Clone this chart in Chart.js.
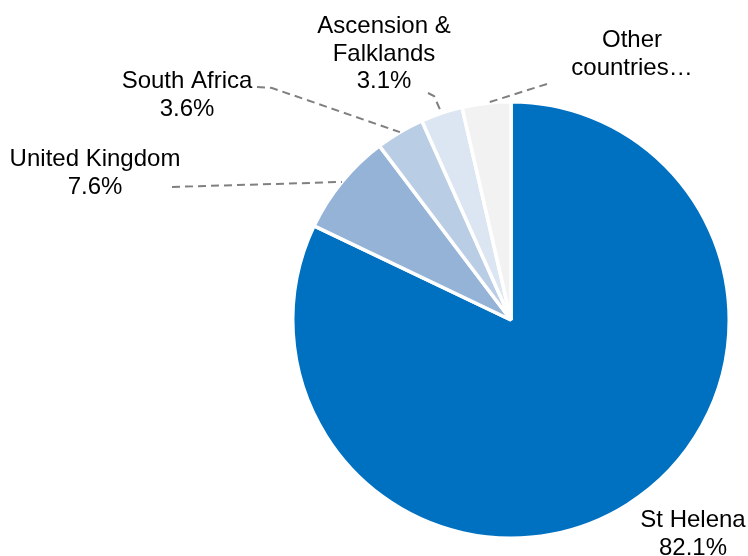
<!DOCTYPE html>
<html>
<head>
<meta charset="utf-8">
<script src="https://cdn.jsdelivr.net/npm/chart.js@4"></script>
<style>
html,body{margin:0;padding:0;background:#fff;}
#wrap{width:748px;height:556px;}
</style>
</head>
<body>
<div id="wrap"><canvas id="pieChart" width="748" height="556"></canvas></div>
<script>
/* DATA */
const countries = ['St Helena','United Kingdom','South Africa','Ascension & Falklands','Other countries'];
const shares = [82.1, 7.6, 3.6, 3.1, 3.6];
const sliceColors = ['#0070C0','#95B3D7','#B9CDE5','#DCE6F2','#F2F2F2'];

/* label text lines, centre x and first baseline */
const labelLines = [
  ['St Helena', '82.1%'],
  ['United Kingdom', '7.6%'],
  ['South Africa', '3.6%'],
  ['Ascension &', 'Falklands', '3.1%'],
  ['Other', 'countries…']
];
const labelPos = [[693,527],[95,166],[187,88],[384,33],[632,47]];
/* leader line points near the label; the line then runs to the slice edge */
const leaders = [null, [[172,187]], [[257,87],[272,88]], [[428,93],[434,96]], [[547,84]]];

/* LABELS PLUGIN */
const labelPlugin = {
  id:'labels',
  afterDraw(chart){
    const ctx = chart.ctx;
    const meta = chart.getDatasetMeta(0);
    ctx.save();
    ctx.strokeStyle = '#808080';
    ctx.lineWidth = 2;
    ctx.setLineDash([8,5]);
    meta.data.forEach((arc,i)=>{
      const pts = leaders[i];
      if(!pts) return;
      const mid = (arc.startAngle + arc.endAngle)/2;
      const r = arc.outerRadius;
      ctx.beginPath();
      ctx.moveTo(pts[0][0], pts[0][1]);
      for(let k=1;k<pts.length;k++) ctx.lineTo(pts[k][0], pts[k][1]);
      ctx.lineTo(arc.x + Math.cos(mid)*r, arc.y + Math.sin(mid)*r);
      ctx.stroke();
    });
    ctx.setLineDash([]);
    ctx.fillStyle = '#000';
    ctx.font = '24px "Liberation Sans", Arial, sans-serif';
    ctx.textAlign = 'center';
    ctx.textBaseline = 'alphabetic';
    labelLines.forEach((lines,i)=>{
      const p = labelPos[i];
      lines.forEach((t,k)=>{
        ctx.fillText(t, p[0], p[1] + k*27.5);
      });
    });
    ctx.restore();
  }
};

/* PIE CHART */
const pieChart = new Chart(
document.getElementById('pieChart'),
{
type:'pie',
data:{
labels:countries,
datasets:[
{
data:shares,
backgroundColor:sliceColors,
borderColor:'#ffffff',
borderWidth:3.5
}
]
},
options:{
responsive:false,
animation:false,
layout:{padding:{left:291,right:17,top:100,bottom:16}},
plugins:{legend:{display:false},tooltip:{enabled:false}}
},
plugins:[labelPlugin]
}
);
</script>
</body>
</html>
